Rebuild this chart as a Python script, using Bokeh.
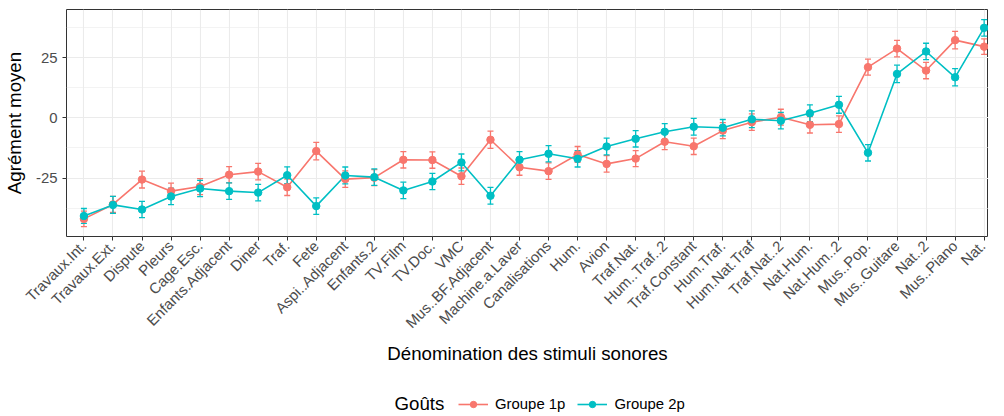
import math
from bokeh.plotting import figure
from bokeh.layouts import column
from bokeh.models import (Range1d, FixedTicker, ColumnDataSource, Whisker, Legend,
                          LegendItem, Label, TeeHead)
from bokeh.embed import file_html
from bokeh.resources import INLINE

stimuli = ["Travaux.Int.", "Travaux.Ext.", "Dispute", "Pleurs", "Cage.Esc.",
           "Enfants.Adjacent", "Diner", "Traf.", "Fete", "Aspi..Adjacent",
           "Enfants.2", "TV.Film", "TV.Doc.", "VMC", "Mus..BF.Adjacent",
           "Machine.a.Laver", "Canalisations", "Hum.", "Avion", "Traf.Nat.",
           "Hum..Traf..2", "Traf.Constant", "Hum.Traf.", "Hum.Nat.Traf",
           "Traf.Nat..2", "Nat.Hum.", "Nat.Hum..2", "Mus..Pop.", "Mus..Guitare",
           "Nat..2", "Mus..Piano", "Nat."]

g1_mean = [-41.9, -35.9, -25.6, -30.4, -28.5, -23.6, -22.3, -28.8, -13.8, -25.4,
           -24.8, -17.4, -17.5, -24.2, -9.1, -20.5, -22.1, -15.2, -19.1, -16.9,
           -9.9, -11.8, -5.3, -1.8, 0.25, -2.9, -2.6, 21.0, 28.7, 19.6, 32.2, 29.5]
g1_se = [3.2, 3.3, 3.5, 3.3, 3.3, 3.4, 3.4, 3.4, 3.6, 3.4, 3.3, 3.4, 3.4, 3.4, 3.6, 3.3,
         3.4, 3.3, 3.4, 3.3, 3.3, 3.4, 3.3, 3.4, 3.3, 3.4, 3.4, 3.3, 3.4, 3.4, 3.6, 3.2]

g2_mean = [-40.7, -36.1, -38.0, -32.6, -29.3, -30.4, -31.0, -23.8, -36.6, -23.9,
           -24.6, -30.1, -26.4, -18.5, -32.3, -17.4, -14.9, -17.0, -11.9, -8.7,
           -5.8, -3.7, -4.1, -0.6, -1.2, 1.9, 5.4, -14.5, 18.2, 27.5, 16.8, 37.3]
g2_se = [3.1, 3.5, 3.4, 3.4, 3.4, 3.4, 3.4, 3.5, 3.4, 3.5, 3.4, 3.4, 3.4, 3.5, 3.5, 3.4,
         3.4, 3.4, 3.5, 3.4, 3.4, 3.5, 3.4, 3.5, 3.4, 3.5, 3.5, 3.4, 3.6, 3.4, 3.6, 3.4]

groups = ["Groupe 1p", "Groupe 2p"]
colors = ["#F8766D", "#00BFC4"]
legend_title = "Goûts"
y_ticks = [-25, 0, 25]
y_minor = [-37.5, -12.5, 12.5, 37.5]

FONT = "Liberation Sans"
idx = list(range(len(stimuli)))
W = 988

p = figure(width=W, height=376, output_backend="svg", toolbar_location=None,
           x_range=Range1d(-0.6, 31.15), y_range=Range1d(-49.2, 44.9),
           min_border_left=55, min_border_right=0, min_border_top=9,
           min_border_bottom=140)
p.background_fill_color = "white"
p.border_fill_color = "white"
p.outline_line_color = "#333333"
p.outline_line_width = 1

# grids
p.xgrid.ticker = FixedTicker(ticks=idx)
p.xgrid.grid_line_color = "#EBEBEB"
p.xgrid.grid_line_width = 1.1
p.ygrid.ticker = FixedTicker(ticks=y_ticks, minor_ticks=y_minor)
p.ygrid.grid_line_color = "#EBEBEB"
p.ygrid.grid_line_width = 1.1
p.ygrid.minor_grid_line_color = "#EBEBEB"
p.ygrid.minor_grid_line_width = 0.6

# axes
xa = p.xaxis[0]
xa.ticker = FixedTicker(ticks=idx)
xa.major_label_overrides = {i: s for i, s in enumerate(stimuli)}
xa.major_label_orientation = math.pi / 4
ya = p.yaxis[0]
ya.ticker = FixedTicker(ticks=y_ticks)
ya.major_label_overrides = {t: str(t) for t in y_ticks}
for ax in (xa, ya):
    ax.axis_line_color = None
    ax.major_tick_line_color = "#333333"
    ax.major_tick_line_width = 1
    ax.major_tick_out = 4
    ax.major_tick_in = 0
    ax.minor_tick_line_color = None
    ax.major_label_text_font = FONT
    ax.major_label_text_font_size = "14.9px"
    ax.major_label_text_color = "#4D4D4D"
    ax.axis_label_text_font = FONT
    ax.axis_label_text_font_size = "18.7px"
    ax.axis_label_text_font_style = "normal"
    ax.axis_label_text_color = "black"
xa.major_label_standoff = 3
ya.major_label_standoff = 5
xa.axis_label = "Dénomination des stimuli sonores"
ya.axis_label = "Agrément moyen"
xa.axis_label_standoff = 3
ya.axis_label_standoff = 8

series = [(g1_mean, g1_se), (g2_mean, g2_se)]
sources = []
for (m, se) in series:
    sources.append(ColumnDataSource(dict(
        x=idx, y=m,
        lower=[a - b for a, b in zip(m, se)],
        upper=[a + b for a, b in zip(m, se)])))

for src, c in zip(sources, colors):
    w = Whisker(base="x", lower="lower", upper="upper", source=src,
                dimension="height", line_color=c, line_width=1.3,
                upper_head=TeeHead(size=6, line_color=c, line_width=1.3),
                lower_head=TeeHead(size=6, line_color=c, line_width=1.3))
    p.add_layout(w)

for src, c in zip(sources, colors):
    p.line("x", "y", source=src, line_color=c, line_width=1.6)
for src, c in zip(sources, colors):
    p.scatter("x", "y", source=src, size=7.5, fill_color=c, line_color=c,
              marker="circle")

# legend strip (below the chart)
q = figure(width=W, height=38, output_backend="svg", toolbar_location=None,
           x_range=Range1d(0, 1), y_range=Range1d(0, 1),
           x_axis_type=None, y_axis_type=None,
           min_border_left=0, min_border_right=0, min_border_top=0,
           min_border_bottom=0)
q.grid.visible = False
q.outline_line_color = None
q.background_fill_color = "white"
q.border_fill_color = "white"
items = []
for g, c in zip(groups, colors):
    lr = q.line([-5, -4], [-5, -4], line_color=c, line_width=1.6)
    sr = q.scatter([-5], [-5], size=7.5, fill_color=c, line_color=c, marker="circle")
    items.append(LegendItem(label=g, renderers=[lr, sr]))
legend = Legend(items=items, orientation="horizontal", location=(392, 2),
                label_text_font=FONT, label_text_font_size="14.9px",
                label_text_color="black", glyph_width=30, glyph_height=16,
                label_height=16, label_standoff=7, spacing=12, padding=0,
                margin=0, border_line_color=None, background_fill_alpha=0)
q.add_layout(legend, "center")
q.add_layout(Label(x=328, y=11, x_units="screen", y_units="screen", text=legend_title,
                   text_font=FONT, text_font_size="18.7px", text_color="black",
                   text_baseline="middle", text_align="left"))

open("out.html", "w").write(file_html(column(p, q, spacing=0), INLINE))
